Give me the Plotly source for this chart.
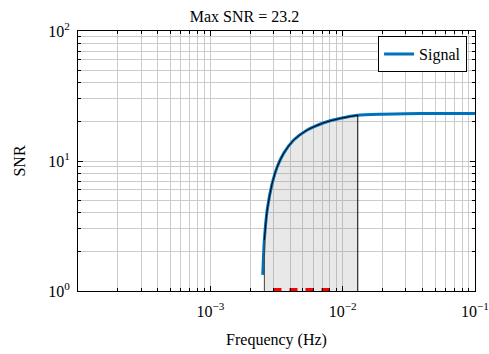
import plotly.graph_objects as go

# ---- data ----
freq = [2.49e-3, 2.52e-3, 2.56e-3, 2.69e-3, 2.93e-3, 3.20e-3, 3.59e-3, 4.27e-3,
        5.40e-3, 7.22e-3, 9.66e-3, 1.30e-2, 2.0e-2, 3.0e-2, 5.0e-2, 1.0e-1]
snr = [1.33, 1.8, 2.47, 4.2, 6.7, 9.0, 11.5, 14.5,
       17.3, 19.7, 21.3, 22.5, 22.9, 23.1, 23.2, 23.2]
band_lo, band_hi = 2.56e-3, 1.30e-2      # shaded integration band
red_marks = [3.0e-3, 8.0e-3]             # red dashed segment on the floor
max_snr = 23.2
x_tickvals = [1e-3, 1e-2, 1e-1]
x_ticktext = ["10<sup>−3</sup>", "10<sup>−2</sup>", "10<sup>−1</sup>"]
y_tickvals = [1, 10, 100]
y_ticktext = ["10<sup>0</sup>", "10<sup>1</sup>", "10<sup>2</sup>"]

FONT = "Liberation Serif"
SPL = dict(shape="spline", smoothing=0.6)

fig = go.Figure()

fig.add_trace(go.Scatter(x=freq, y=snr, mode="lines", name="Signal",
                         line=dict(color="#0072BD", width=3, **SPL)))

bx = [f for f in freq if band_lo <= f <= band_hi]
by = [s for f, s in zip(freq, snr) if band_lo <= f <= band_hi]
# baseline for the shaded band
fig.add_trace(go.Scatter(x=[band_lo, band_hi], y=[1, 1], mode="lines",
                         line=dict(width=0, color="rgba(0,0,0,0)"),
                         showlegend=False, hoverinfo="skip"))
fig.add_trace(go.Scatter(x=bx, y=by, mode="lines", fill="tonexty",
                         fillcolor="rgba(128,128,128,0.18)",
                         line=dict(color="black", width=1, **SPL),
                         showlegend=False, hoverinfo="skip"))
# band edges
fig.add_trace(go.Scatter(x=[band_hi, band_hi], y=[1, by[-1]], mode="lines",
                         line=dict(color="black", width=1),
                         showlegend=False, hoverinfo="skip"))
fig.add_trace(go.Scatter(x=[band_lo, band_lo], y=[1, by[0]], mode="lines",
                         line=dict(color="#444444", width=1),
                         showlegend=False, hoverinfo="skip"))

fig.add_trace(go.Scatter(x=red_marks, y=[1, 1], mode="lines",
                         line=dict(color="red", width=6, dash="8px,8px"),
                         showlegend=False, hoverinfo="skip"))

axis_common = dict(
    type="log", showline=True, linecolor="black", linewidth=1, mirror="ticks",
    ticks="inside", ticklen=5, tickcolor="black", tickmode="array",
    showgrid=True, gridcolor="#cccccc", gridwidth=1, zeroline=False,
    automargin=False,
    tickfont=dict(family=FONT, size=16, color="black"),
    minor=dict(ticks="inside", ticklen=3, tickcolor="black", showgrid=True,
               gridcolor="#cccccc", gridwidth=1, dtick="D1"),
)

fig.update_xaxes(range=[-4, -1], tickvals=x_tickvals, ticktext=x_ticktext,
                 ticklabelstandoff=6,
                 title=dict(text="Frequency (Hz)",
                            font=dict(family=FONT, size=16, color="black"), standoff=14),
                 **axis_common)
fig.update_yaxes(range=[0, 2], tickvals=y_tickvals, ticktext=y_ticktext,
                 ticklabelstandoff=4,
                 title=dict(text="SNR",
                            font=dict(family=FONT, size=16, color="black"), standoff=18),
                 **axis_common)

fig.update_layout(
    width=489, height=354,
    margin=dict(l=78, r=14, t=31, b=63),
    paper_bgcolor="white", plot_bgcolor="white",
    title=dict(text=f"Max SNR = {max_snr}", x=0.5, xanchor="center",
               y=1 - 16/354, yanchor="middle",
               font=dict(family=FONT, size=16, color="black")),
    legend=dict(x=0.98, y=0.98, xanchor="right", yanchor="top",
                bgcolor="white", bordercolor="black", borderwidth=1,
                itemwidth=30,
                font=dict(family=FONT, size=16, color="black")),
    showlegend=True,
)

fig.write_html("out.html")
